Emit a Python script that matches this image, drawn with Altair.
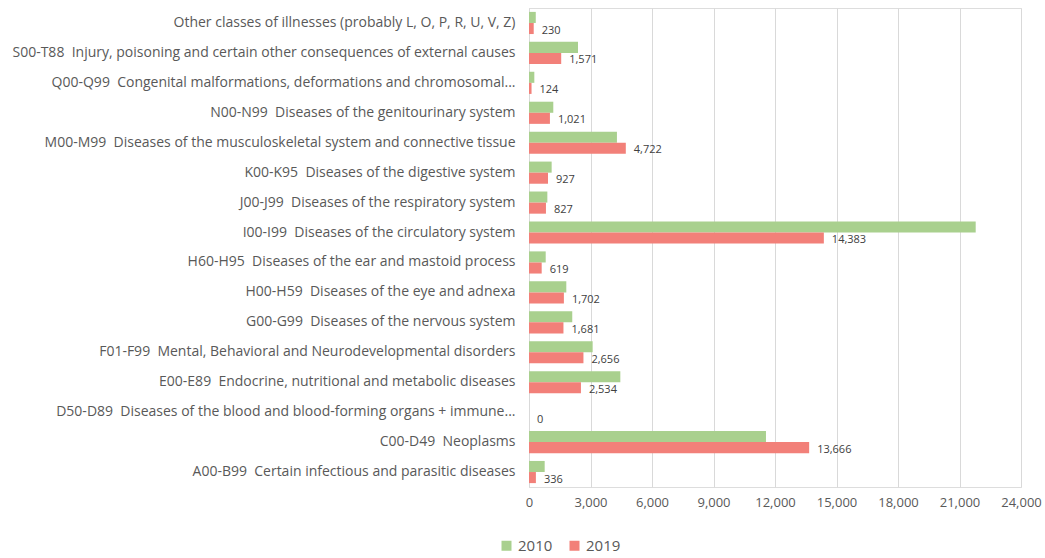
import altair as alt
import pandas as pd

# Disease classes, top to bottom
categories = [
    "Other classes of illnesses (probably L, O, P, R, U, V, Z)",
    "S00-T88\u00a0 Injury, poisoning and certain other consequences of external causes",
    "Q00-Q99\u00a0 Congenital malformations, deformations and chromosomal...",
    "N00-N99\u00a0 Diseases of the genitourinary system",
    "M00-M99\u00a0 Diseases of the musculoskeletal system and connective tissue",
    "K00-K95\u00a0 Diseases of the digestive system",
    "J00-J99\u00a0 Diseases of the respiratory system",
    "I00-I99\u00a0 Diseases of the circulatory system",
    "H60-H95\u00a0 Diseases of the ear and mastoid process",
    "H00-H59\u00a0 Diseases of the eye and adnexa",
    "G00-G99\u00a0 Diseases of the nervous system",
    "F01-F99\u00a0 Mental, Behavioral and Neurodevelopmental disorders",
    "E00-E89\u00a0 Endocrine, nutritional and metabolic diseases",
    "D50-D89\u00a0 Diseases of the blood and blood-forming organs + immune...",
    "C00-D49\u00a0 Neoplasms",
    "A00-B99\u00a0 Certain infectious and parasitic diseases",
]

values_2010 = [330, 2390, 260, 1185, 4290, 1105, 895, 21790, 815, 1820,
               2110, 3105, 4455, 0, 11560, 765]
values_2019 = [230, 1571, 124, 1021, 4722, 927, 827, 14383, 619, 1702,
               1681, 2656, 2534, 0, 13666, 336]

years = ["2010", "2019"]
colors = ["#A9D08E", "#F28079"]
x_ticks = list(range(0, 24001, 3000))

rows = []
for c, a, b in zip(categories, values_2010, values_2019):
    rows.append({"cat": c, "year": "2010", "value": a})
    rows.append({"cat": c, "year": "2019", "value": b})
df = pd.DataFrame(rows)

FONT = "Open Sans"

y_enc = alt.Y(
    "cat:N", sort=categories, title=None,
    scale=alt.Scale(paddingInner=0.26, paddingOuter=0.13),
    axis=alt.Axis(labelFontSize=14, labelColor="#595959", labelFont=FONT,
                  labelLimit=700, labelPadding=14, ticks=False,
                  domain=True, domainColor="#d9d9d9", grid=False),
)
x_enc = alt.X(
    "value:Q", title=None,
    scale=alt.Scale(domain=[0, 24000], nice=False),
    axis=alt.Axis(values=x_ticks, format=",d", labelFontSize=13,
                  labelColor="#595959", labelFont=FONT, labelPadding=9,
                  labelFlush=False, labelOverlap=False,
                  ticks=False, domain=False, grid=True, gridColor="#d9d9d9"),
)
y_off = alt.YOffset("year:N", sort=years)

bars = alt.Chart(df).mark_bar().encode(
    x=x_enc,
    y=y_enc,
    yOffset=y_off,
    color=alt.Color(
        "year:N", sort=years,
        scale=alt.Scale(domain=years, range=colors),
        legend=alt.Legend(title=None, orient="none", direction="horizontal",
                          legendX=-30, legendY=530, symbolType="square",
                          symbolSize=100, symbolStrokeWidth=0,
                          labelFontSize=15, labelColor="#595959",
                          labelFont=FONT, columnPadding=14, symbolOffset=0),
    ),
)

labels = alt.Chart(df).transform_filter(
    alt.datum.year == "2019"
).mark_text(align="left", baseline="middle", dx=8, dy=2, fontSize=11,
            font=FONT, color="#404040").encode(
    x="value:Q",
    y=alt.Y("cat:N", sort=categories),
    yOffset=y_off,
    text=alt.Text("value:Q", format=",d"),
)

chart = alt.layer(bars, labels).properties(
    width=492, height=479,
    padding={"left": 529, "top": 8, "right": 24, "bottom": 71},
    autosize="none",
).configure_view(stroke=None).configure(background="white")

chart.save("out.html", embed_options={"renderer": "svg", "actions": False})
